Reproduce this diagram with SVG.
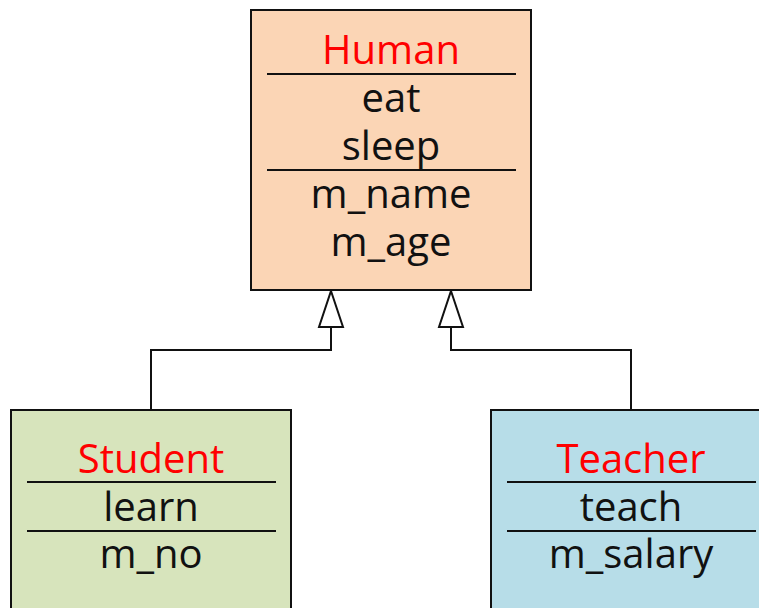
<svg xmlns="http://www.w3.org/2000/svg" width="759" height="608" viewBox="0 0 759 608">
<defs>
<style>
.box{stroke:#111;stroke-width:2}
.div{stroke:#111;stroke-width:1.8}
.t{font-family:"Open Sans","Noto Sans","Liberation Sans",sans-serif;font-size:40px;text-anchor:middle;fill:#111}
.title{fill:#FF0000}
.conn{fill:none;stroke:#111;stroke-width:2}
.head{fill:#fff;stroke:#111;stroke-width:2}
</style>
</defs>
<rect width="759" height="608" fill="#fff"/>
<g id="connectors">
<path class="conn" d="M151,410 V350 H331 V327"/>
<path class="conn" d="M631,410 V350 H451 V327"/>
<path class="head" d="M331,291 L343,327 L319,327 Z"/>
<path class="head" d="M451,291 L463,327 L439,327 Z"/>
</g>
<g id="Human">
<rect class="box" x="251" y="10" width="280" height="280" fill="#FBD5B5"/>
<line class="div" x1="267" y1="74" x2="516" y2="74"/>
<line class="div" x1="267" y1="170" x2="516" y2="170"/>
<text class="t title" x="391" y="64">Human</text>
<text class="t" x="391" y="112">eat</text>
<text class="t" x="391" y="160">sleep</text>
<text class="t" x="391" y="208">m_name</text>
<text class="t" x="391" y="256">m_age</text>
</g>
<g id="Student">
<rect class="box" x="11" y="410" width="280" height="220" fill="#D7E4BC"/>
<line class="div" x1="27" y1="482" x2="276" y2="482"/>
<line class="div" x1="27" y1="531" x2="276" y2="531"/>
<text class="t title" x="151" y="473">Student</text>
<text class="t" x="151" y="521">learn</text>
<text class="t" x="151" y="568">m_no</text>
</g>
<g id="Teacher">
<rect class="box" x="491" y="410" width="280" height="220" fill="#B7DDE8"/>
<line class="div" x1="507" y1="482" x2="756" y2="482"/>
<line class="div" x1="507" y1="531" x2="756" y2="531"/>
<text class="t title" x="631" y="473">Teacher</text>
<text class="t" x="631" y="521">teach</text>
<text class="t" x="631" y="568">m_salary</text>
</g>
</svg>
